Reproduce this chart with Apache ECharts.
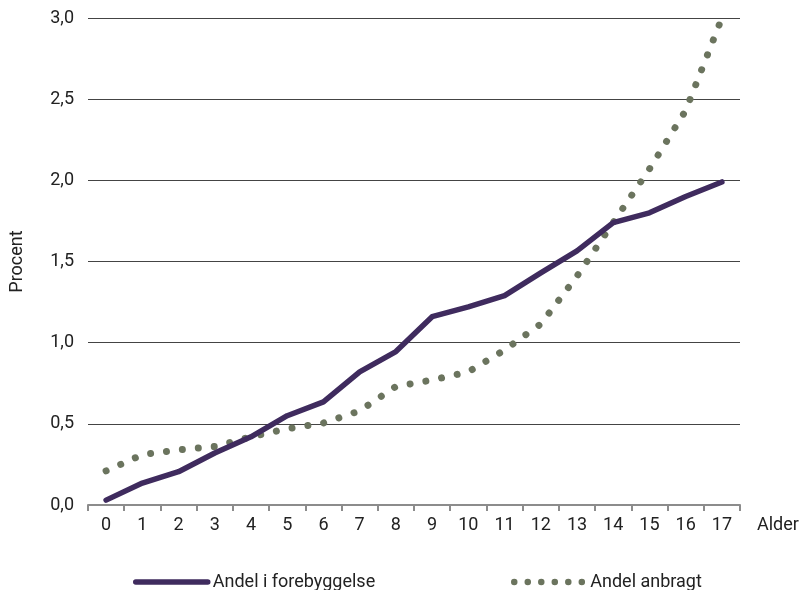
<!DOCTYPE html>
<html><head><meta charset="utf-8">
<script src="https://cdn.jsdelivr.net/npm/echarts@6/dist/echarts.min.js"></script>
<style>html,body{margin:0;padding:0;background:#fff}#c{width:805px;height:590px}</style>
</head><body><div id="c"></div>
<script>
const categories = ['0','1','2','3','4','5','6','7','8','9','10','11','12','13','14','15','16','17'];
const forebyggelse = [0.03,0.135,0.205,0.32,0.42,0.55,0.635,0.82,0.945,1.16,1.22,1.29,1.43,1.565,1.74,1.80,1.90,1.99];
const anbragt = [0.21,0.31,0.34,0.36,0.42,0.47,0.505,0.58,0.73,0.77,0.82,0.955,1.115,1.41,1.74,2.07,2.43,3.0];
const yTicks = {min:0, max:3, interval:0.5};
const seriesNames = ['Andel i forebyggelse','Andel anbragt'];

const FONT = 'Roboto';
const FS = 18;
const TXT = '#222';
const chart = echarts.init(document.getElementById('c'), null, {renderer:'canvas'});
chart.setOption({
  animation:false,
  textStyle:{fontFamily:FONT},
  grid:{left:86, right:65, top:18, bottom:85},
  legend:[
    {data:[seriesNames[0]], left:128, top:568, itemWidth:72, itemHeight:6, itemGap:0,
     itemStyle:{opacity:0, borderWidth:0},
     lineStyle:{width:5.5, cap:'round'},
     textStyle:{fontFamily:FONT, fontSize:FS, color:TXT}},
    {data:[seriesNames[1]], left:506, top:568, itemWidth:71, itemHeight:6, itemGap:0,
     itemStyle:{opacity:0, borderWidth:0},
     lineStyle:{width:6.5, type:[0.01,13.5], cap:'round'},
     textStyle:{fontFamily:FONT, fontSize:FS, color:TXT}}
  ],
  xAxis:{
    type:'category', data:categories, boundaryGap:true,
    name:'Alder', nameLocation:'end', nameGap:17,
    nameTextStyle:{fontFamily:FONT, fontSize:FS, color:TXT, verticalAlign:'top', padding:[11,0,0,0]},
    axisLine:{lineStyle:{color:'#8c8c8c', width:2}},
    axisTick:{show:true, length:6, lineStyle:{color:'#8c8c8c', width:2}},
    axisLabel:{fontFamily:FONT, fontSize:FS, color:TXT, margin:11},
    splitLine:{show:false}
  },
  yAxis:{
    type:'value', min:yTicks.min, max:yTicks.max, interval:yTicks.interval,
    name:'Procent', nameLocation:'middle', nameGap:62, nameRotate:90,
    nameTextStyle:{fontFamily:FONT, fontSize:FS, color:TXT},
    axisLine:{show:false}, axisTick:{show:false},
    axisLabel:{fontFamily:FONT, fontSize:FS, color:TXT, margin:14,
      formatter:v=>v.toFixed(1).replace('.',',')},
    splitLine:{lineStyle:{color:'#444', width:1}}
  },
  series:[
    {name:seriesNames[0], type:'line', data:forebyggelse, symbol:'none', z:3,
     itemStyle:{color:'#3f2b5e'},
     lineStyle:{color:'#3f2b5e', width:5.5, cap:'round', join:'round'}},
    {name:seriesNames[1], type:'line', data:anbragt, symbol:'none', z:2,
     itemStyle:{color:'#6b745e'},
     lineStyle:{color:'#6b745e', width:7, type:[0.01,16], cap:'round'}}
  ]
});
</script></body></html>
